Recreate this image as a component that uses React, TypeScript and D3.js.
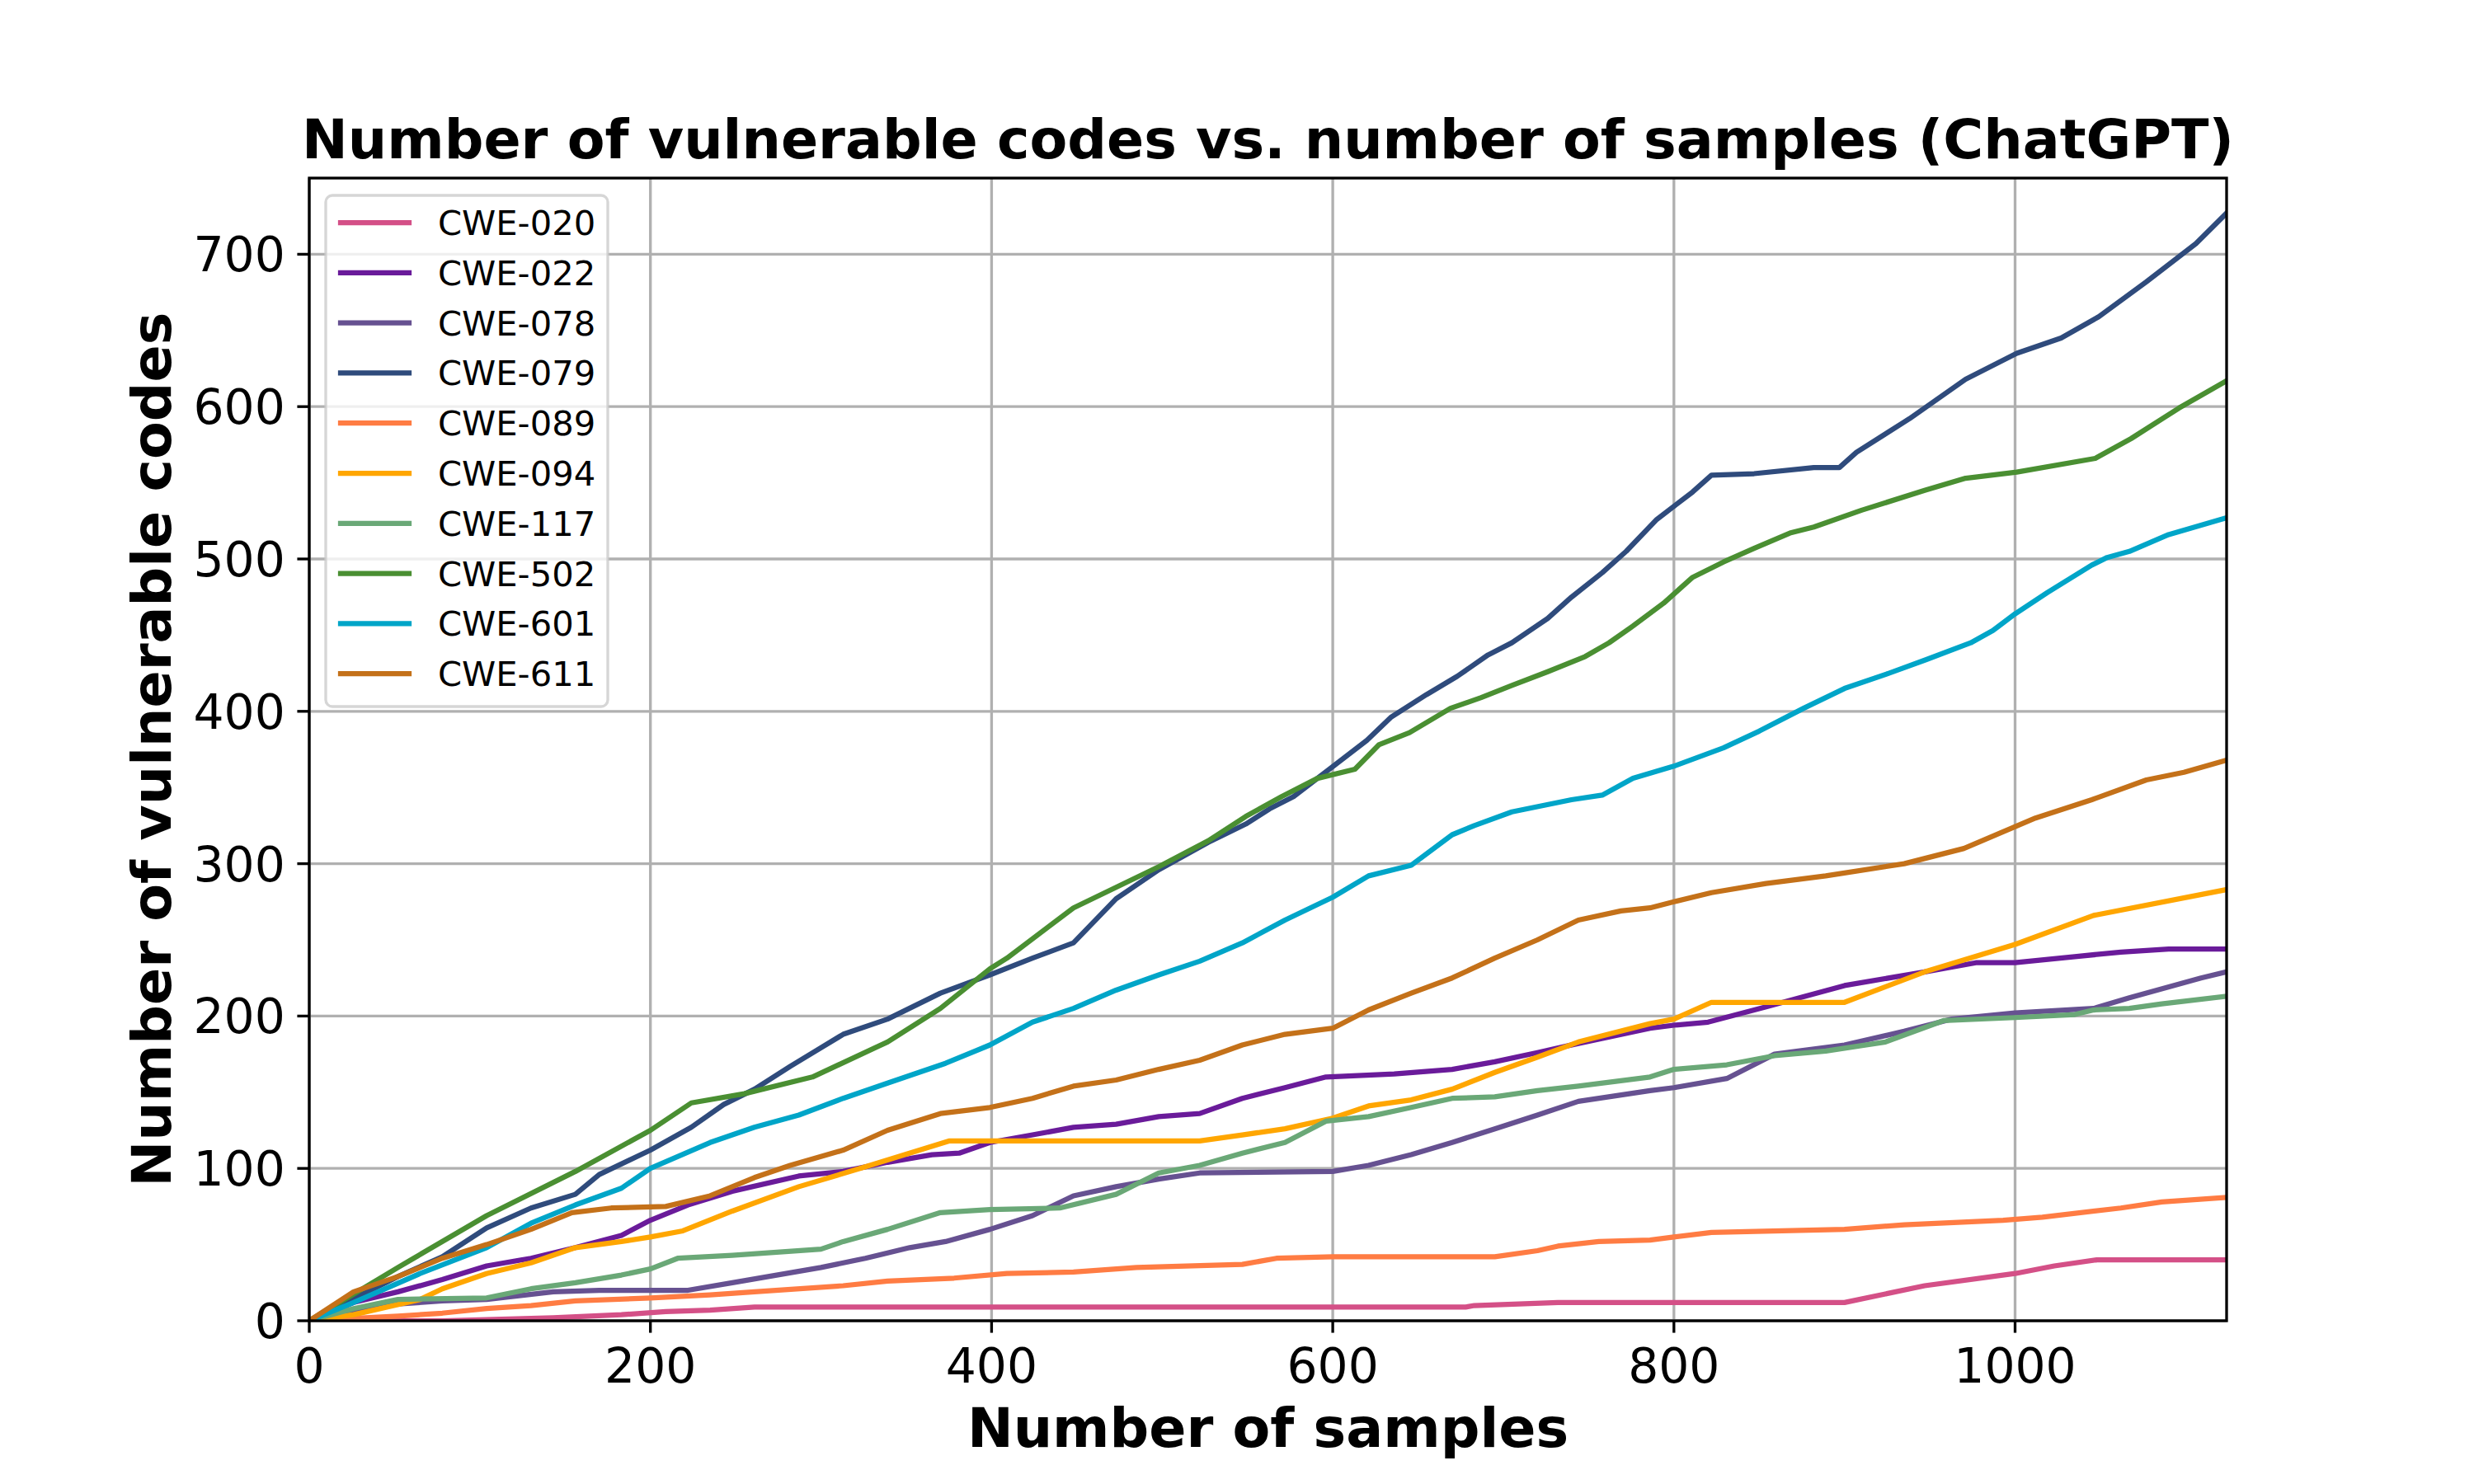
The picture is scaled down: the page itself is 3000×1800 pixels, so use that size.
import React from 'react';
import * as d3 from 'd3';

// ---- data ----
const seriesNames = ['CWE-020', 'CWE-022', 'CWE-078', 'CWE-079', 'CWE-089', 'CWE-094', 'CWE-117', 'CWE-502', 'CWE-601', 'CWE-611'];
const seriesColors = ['#d45087', '#6a1b9a', '#665191', '#2f4b7c', '#ff7c43', '#ffa600', '#6aa877', '#4a8f32', '#00a5c8', '#c47119'];

const cwe020X = [0, 78, 143, 183, 209, 235, 261, 678, 683, 732, 900, 947, 1000, 1023, 1048, 1124];
const cwe020Y = [0, 0, 2, 4, 6, 7, 9, 9, 10, 12, 12, 23, 31, 36, 40, 40];

const cwe022X = [0, 26, 52, 78, 104, 130, 156, 183, 200, 222, 248, 287, 313, 339, 365, 381, 399, 424, 448, 473, 498, 522, 547, 572, 596, 636, 670, 695, 720, 744, 786, 800, 820, 854, 900, 947, 977, 1000, 1035, 1062, 1090, 1124];
const cwe022Y = [0, 12, 19, 27, 36, 41, 48, 56, 66, 76, 85, 95, 98, 104, 109, 110, 117, 122, 127, 129, 134, 136, 146, 153, 160, 162, 165, 170, 176, 182, 192, 194, 196, 206, 220, 229, 235, 235, 239, 242, 244, 244];

const cwe078X = [0, 26, 52, 78, 104, 143, 170, 222, 248, 274, 300, 326, 352, 373, 399, 424, 448, 473, 498, 522, 600, 621, 646, 670, 695, 720, 744, 786, 800, 831, 859, 900, 935, 963, 1000, 1046, 1067, 1109, 1124];
const cwe078Y = [0, 7, 11, 13, 14, 19, 20, 20, 25, 30, 35, 41, 48, 52, 60, 69, 82, 88, 93, 97, 98, 102, 109, 117, 126, 135, 144, 151, 153, 159, 175, 181, 190, 198, 202, 205, 212, 225, 229];

const cwe079X = [0, 52, 78, 104, 130, 156, 170, 200, 224, 243, 261, 282, 313, 339, 370, 399, 424, 448, 473, 498, 527, 549, 563, 577, 598, 620, 634, 655, 673, 691, 705, 726, 740, 758, 772, 790, 811, 822, 847, 882, 897, 907, 938, 971, 1001, 1027, 1049, 1077, 1106, 1124];
const cwe079Y = [0, 29, 42, 61, 74, 83, 96, 112, 127, 142, 152, 167, 188, 198, 215, 227, 238, 248, 277, 296, 314, 326, 336, 344, 362, 381, 396, 411, 423, 437, 445, 461, 475, 491, 505, 526, 544, 555, 556, 560, 560, 570, 592, 618, 635, 645, 659, 682, 707, 727];

const cwe089X = [0, 52, 78, 104, 130, 156, 200, 235, 261, 313, 339, 378, 409, 448, 485, 547, 567, 600, 695, 720, 732, 756, 786, 800, 822, 900, 935, 993, 1016, 1062, 1086, 1124];
const cwe089Y = [0, 3, 5, 8, 10, 13, 15, 17, 19, 23, 26, 28, 31, 32, 35, 37, 41, 42, 42, 46, 49, 52, 53, 55, 58, 60, 63, 66, 68, 74, 78, 81];

const cwe094X = [0, 26, 65, 78, 104, 130, 156, 183, 200, 219, 248, 287, 326, 375, 522, 547, 572, 600, 621, 646, 670, 695, 720, 744, 786, 800, 822, 900, 947, 1000, 1046, 1124];
const cwe094Y = [0, 4, 14, 21, 31, 38, 48, 52, 55, 59, 72, 88, 101, 118, 118, 122, 126, 133, 141, 145, 152, 163, 173, 183, 195, 198, 209, 209, 229, 247, 266, 283];

const cwe117X = [0, 26, 52, 104, 130, 156, 183, 200, 216, 248, 274, 300, 313, 339, 370, 399, 440, 473, 498, 522, 547, 572, 596, 621, 646, 670, 695, 720, 744, 786, 800, 831, 859, 889, 924, 958, 1000, 1035, 1046, 1067, 1086, 1124];
const cwe117Y = [0, 8, 14, 15, 21, 25, 30, 34, 41, 43, 45, 47, 52, 60, 71, 73, 74, 83, 97, 102, 110, 117, 131, 134, 140, 146, 147, 151, 154, 160, 165, 168, 174, 177, 183, 197, 199, 201, 204, 205, 208, 213];

const cwe502X = [0, 52, 104, 156, 200, 224, 255, 295, 339, 370, 399, 409, 448, 498, 527, 549, 570, 591, 613, 627, 645, 669, 687, 705, 726, 748, 762, 776, 794, 811, 829, 847, 868, 882, 910, 947, 971, 1001, 1047, 1068, 1096, 1124];
const cwe502Y = [0, 35, 69, 98, 125, 143, 149, 160, 183, 205, 231, 238, 271, 298, 315, 331, 344, 356, 362, 378, 386, 402, 409, 417, 426, 436, 445, 456, 471, 488, 498, 507, 517, 521, 532, 545, 553, 557, 566, 579, 599, 617];

const cwe601X = [0, 26, 65, 104, 130, 156, 183, 200, 235, 261, 287, 313, 339, 373, 399, 424, 448, 473, 498, 522, 547, 572, 600, 621, 646, 670, 683, 705, 740, 758, 776, 800, 829, 850, 876, 900, 926, 948, 974, 987, 1000, 1019, 1045, 1054, 1067, 1090, 1124];
const cwe601Y = [0, 12, 31, 48, 64, 76, 87, 100, 117, 127, 135, 146, 156, 169, 181, 196, 205, 217, 227, 236, 248, 263, 278, 292, 299, 319, 325, 334, 342, 345, 356, 364, 376, 387, 402, 415, 425, 434, 445, 453, 464, 478, 496, 501, 505, 516, 527];

const cwe611X = [0, 26, 52, 78, 104, 130, 154, 177, 209, 235, 261, 282, 313, 339, 370, 399, 424, 448, 473, 498, 522, 547, 572, 600, 621, 646, 670, 695, 720, 744, 769, 786, 800, 822, 854, 889, 935, 970, 991, 1012, 1045, 1077, 1099, 1124];
const cwe611Y = [0, 19, 29, 41, 50, 60, 71, 74, 75, 82, 94, 102, 112, 125, 136, 140, 146, 154, 158, 165, 171, 181, 188, 192, 204, 215, 225, 238, 250, 263, 269, 271, 275, 281, 287, 292, 300, 310, 320, 330, 342, 355, 360, 368];

const seriesX = [cwe020X, cwe022X, cwe078X, cwe079X, cwe089X, cwe094X, cwe117X, cwe502X, cwe601X, cwe611X];
const seriesY = [cwe020Y, cwe022Y, cwe078Y, cwe079Y, cwe089Y, cwe094Y, cwe117Y, cwe502Y, cwe601Y, cwe611Y];

const xTicks = [0, 200, 400, 600, 800, 1000];
const yTicks = [0, 100, 200, 300, 400, 500, 600, 700];
const xDomain = [0, 1124];
const yDomain = [0, 750];

const titleText = 'Number of vulnerable codes vs. number of samples (ChatGPT)';
const xLabelText = 'Number of samples';
const yLabelText = 'Number of vulnerable codes';

const FONT = '"DejaVu Sans", "Liberation Sans", sans-serif';

export default function App() {
  const W = 3000;
  const H = 1800;
  const left = 375, right = 2700, top = 216, bottom = 1602;
  const x = d3.scaleLinear().domain(xDomain).range([left, right]);
  const y = d3.scaleLinear().domain(yDomain).range([bottom, top]);
  const line = d3.line<[number, number]>().x(d => x(d[0])).y(d => y(d[1]));

  const pt = 300 / 72;
  const gridW = 0.8 * pt;
  const lineW = 1.5 * pt;
  const tickLen = 3.5 * pt;
  const tickFs = 14 * pt;
  const labelFs = 16 * pt;
  const legendFs = 10 * pt;

  const legend = { x: 395, y: 237, w: 342, h: 620 };
  const rowH = 60.8;
  const row0 = 270;

  return (
    <svg width={W} height={H} viewBox={`0 0 ${W} ${H}`} style={{ position: 'absolute', left: 0, top: 0, background: '#fff' }} fontFamily={FONT}>
      <rect x={0} y={0} width={W} height={H} fill="#ffffff" />
      <defs>
        <clipPath id="plotClip">
          <rect x={left} y={top} width={right - left} height={bottom - top} />
        </clipPath>
      </defs>
      {/* grid */}
      <g stroke="#b0b0b0" strokeWidth={gridW}>
        {xTicks.map(t => (
          <line key={'gx' + t} x1={x(t)} x2={x(t)} y1={top} y2={bottom} />
        ))}
        {yTicks.map(t => (
          <line key={'gy' + t} x1={left} x2={right} y1={y(t)} y2={y(t)} />
        ))}
      </g>
      {/* series */}
      <g clipPath="url(#plotClip)">
        {seriesNames.map((name, i) => {
          const pts = seriesX[i].map((v, j) => [v, seriesY[i][j]] as [number, number]);
          return (
            <path key={name} d={line(pts) || ''} fill="none" stroke={seriesColors[i]} strokeWidth={lineW} strokeLinejoin="round" strokeLinecap="square" />
          );
        })}
      </g>
      {/* spines */}
      <rect x={left} y={top} width={right - left} height={bottom - top} fill="none" stroke="#000" strokeWidth={gridW} strokeLinejoin="miter" />
      {/* ticks */}
      <g stroke="#000" strokeWidth={gridW}>
        {xTicks.map(t => (
          <line key={'tx' + t} x1={x(t)} x2={x(t)} y1={bottom} y2={bottom + tickLen} />
        ))}
        {yTicks.map(t => (
          <line key={'ty' + t} x1={left - tickLen} x2={left} y1={y(t)} y2={y(t)} />
        ))}
      </g>
      <g fontSize={tickFs} fill="#000">
        {xTicks.map(t => (
          <text key={'lx' + t} x={x(t)} y={1677} textAnchor="middle">{String(t)}</text>
        ))}
        {yTicks.map(t => (
          <text key={'ly' + t} x={left - tickLen - 3.5 * pt} y={y(t) + 21} textAnchor="end">{String(t)}</text>
        ))}
      </g>
      {/* axis labels */}
      <text x={(left + right) / 2} y={1755} textAnchor="middle" fontSize={labelFs} fontWeight="bold">{xLabelText}</text>
      <text transform={`translate(207, ${(top + bottom) / 2}) rotate(-90)`} textAnchor="middle" fontSize={labelFs} fontWeight="bold">{yLabelText}</text>
      {/* title */}
      <text x={(left + right) / 2} y={192} textAnchor="middle" fontSize={labelFs} fontWeight="bold">{titleText}</text>
      {/* legend */}
      <g>
        <rect x={legend.x} y={legend.y} width={legend.w} height={legend.h} rx={8} ry={8} fill="#ffffff" fillOpacity={0.8} stroke="#cccccc" strokeOpacity={0.8} strokeWidth={gridW} />
        {seriesNames.map((name, i) => (
          <g key={'lg' + name}>
            <line x1={413} x2={496} y1={row0 + i * rowH} y2={row0 + i * rowH} stroke={seriesColors[i]} strokeWidth={lineW} strokeLinecap="square" />
            <text x={531} y={row0 + i * rowH + 15} fontSize={legendFs} fill="#000">{name}</text>
          </g>
        ))}
      </g>
    </svg>
  );
}
